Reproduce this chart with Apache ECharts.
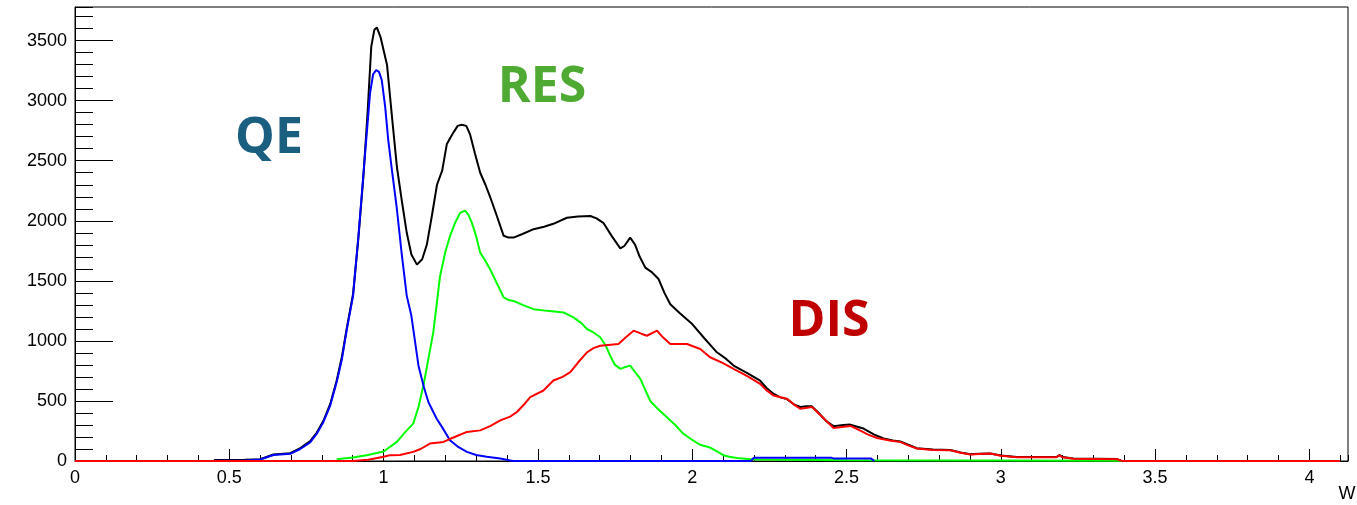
<!DOCTYPE html>
<html>
<head>
<meta charset="utf-8">
<script src="https://cdn.jsdelivr.net/npm/echarts@6/dist/echarts.min.js"></script>
<style>
html,body{margin:0;padding:0;background:#fff;}
#chart{width:1357px;height:505px;}
</style>
</head>
<body>
<div id="chart"></div>
<script>
// ---- data ----
const totalW = [0.45,0.55,0.6,0.643,0.697,0.73,0.762,0.783,0.805,0.827,0.848,0.865,0.881,0.901,0.918,0.934,0.948,0.96,0.97,0.978,0.99,1.011,1.027,1.043,1.06,1.075,1.09,1.108,1.125,1.14,1.157,1.173,1.19,1.205,1.225,1.24,1.253,1.268,1.28,1.296,1.313,1.33,1.345,1.367,1.389,1.405,1.421,1.45,1.486,1.52,1.55,1.594,1.63,1.67,1.69,1.713,1.74,1.767,1.78,1.799,1.815,1.83,1.848,1.87,1.891,1.91,1.929,1.96,2.0,2.04,2.08,2.11,2.134,2.18,2.22,2.24,2.263,2.285,2.307,2.33,2.35,2.37,2.388,2.41,2.435,2.458,2.49,2.512,2.535,2.555,2.59,2.62,2.65,2.674,2.7,2.728,2.78,2.836,2.87,2.901,2.93,2.966,3.0,3.052,3.18,3.19,3.2,3.235,3.377,3.39,3.4];
const totalN = [8,10,15,54,65,108,165,235,335,475,670,870,1110,1390,1850,2350,2900,3450,3590,3610,3530,3300,2870,2450,2150,1900,1720,1635,1680,1800,2050,2300,2420,2640,2730,2790,2800,2790,2720,2560,2400,2300,2200,2040,1875,1860,1860,1890,1930,1950,1975,2025,2035,2040,2020,1980,1870,1770,1790,1860,1800,1700,1610,1570,1515,1400,1305,1230,1140,1020,905,850,795,730,670,610,560,530,515,470,450,455,455,400,330,290,300,303,285,270,220,187,170,162,135,106,95,92,70,56,60,62,46,33,33,48,33,20,16,3,0];

const qeW = [0.45,0.55,0.6,0.643,0.697,0.73,0.762,0.783,0.805,0.827,0.848,0.865,0.881,0.901,0.918,0.934,0.956,0.966,0.976,0.985,0.994,1.005,1.015,1.028,1.042,1.058,1.075,1.09,1.113,1.13,1.145,1.172,1.19,1.215,1.24,1.27,1.3,1.334,1.378,1.41,1.42,2.19,2.2,2.45,2.46,2.58,2.59];
const qeN = [3,5,12,50,60,100,155,225,325,462,657,850,1099,1375,1860,2370,3061,3220,3254,3240,3172,2950,2674,2400,2121,1740,1375,1209,794,620,491,352,280,172,120,76,50,35,21,5,0,0,28,28,20,20,0];

const resW = [0.848,0.9,0.945,1.0,1.043,1.07,1.096,1.113,1.129,1.145,1.161,1.183,1.2,1.215,1.233,1.248,1.264,1.275,1.286,1.3,1.313,1.33,1.345,1.367,1.389,1.405,1.421,1.45,1.486,1.53,1.583,1.615,1.64,1.659,1.68,1.702,1.72,1.734,1.75,1.767,1.78,1.799,1.815,1.832,1.85,1.864,1.89,1.918,1.945,1.97,2.0,2.026,2.06,2.08,2.101,2.12,2.145,2.2,2.5,3.0,3.38,3.39];
const resN = [15,30,48,79,159,240,311,450,629,850,1071,1541,1740,1872,1990,2066,2085,2050,1983,1870,1735,1665,1596,1480,1362,1340,1333,1300,1264,1250,1237,1196,1150,1099,1070,1030,960,877,800,767,780,794,740,684,580,500,430,365,300,230,175,135,110,80,48,35,25,12,6,4,3,0];

const disW = [0,0.9,0.95,1.0,1.02,1.053,1.096,1.12,1.15,1.194,1.23,1.27,1.313,1.345,1.378,1.41,1.432,1.455,1.475,1.518,1.55,1.58,1.605,1.63,1.659,1.68,1.702,1.761,1.785,1.81,1.835,1.853,1.886,1.905,1.929,1.983,2.026,2.058,2.1,2.134,2.18,2.22,2.24,2.263,2.307,2.33,2.35,2.388,2.42,2.458,2.512,2.54,2.57,2.599,2.64,2.674,2.7,2.728,2.78,2.836,2.87,2.901,2.93,2.966,3.0,3.052,3.18,3.19,3.2,3.235,3.377,3.39,3.4,4.1];
const disN = [0,0,10,35,48,50,76,100,145,159,200,242,255,290,338,370,408,470,532,587,670,700,740,820,905,940,960,974,1030,1085,1060,1043,1085,1030,974,974,933,864,815,767,705,643,590,546,518,470,435,449,370,275,292,260,220,192,170,159,130,104,92,90,68,54,58,62,43,31,31,48,31,18,15,2,0,0];

const xTickLabels = ['0','0.5','1','1.5','2','2.5','3','3.5','4'];
const labels = [
  {text:'QE',  x:269, y:139, color:'#1a5f80'},
  {text:'RES', x:542, y:88,  color:'#4faa33'},
  {text:'DIS', x:829, y:322, color:'#c00000'}
];

const zip = (a,b) => a.map((v,i) => [v,b[i]]);

const chart = echarts.init(document.getElementById('chart'), null, {renderer:'canvas'});
const fontFam = '"Liberation Sans", Arial, Helvetica, sans-serif';
const XMAX = 4.125, YMAX = 3780;

function line(name, data, color, z) {
  return {name, type:'line', data, xAxisIndex:0, yAxisIndex:0, symbol:'none', z,
    lineStyle:{color, width:2}, itemStyle:{color}, animation:false};
}

chart.setOption({
  animation:false,
  backgroundColor:'#fff',
  grid:{left:75, right:9, top:7, bottom:44, show:true, borderColor:'#000', borderWidth:1, backgroundColor:'transparent'},
  xAxis:[
    {type:'value', min:0, max:XMAX, interval:0.5, position:'bottom',
     axisLine:{show:true, onZero:false, lineStyle:{color:'#000', width:1}},
     axisTick:{show:true, inside:true, length:12, lineStyle:{color:'#000'}},
     splitLine:{show:false},
     axisLabel:{show:true, margin:8, color:'#000', fontSize:18, fontFamily:fontFam, showMaxLabel:false,
       formatter: v => { const i = Math.round(v/0.5); return (Math.abs(v - i*0.5) < 1e-6 && i < xTickLabels.length) ? xTickLabels[i] : ''; }}},
    {type:'value', min:0, max:XMAX, interval:0.1, position:'bottom',
     axisLine:{show:false, onZero:false},
     axisTick:{show:true, inside:true, length:6, lineStyle:{color:'#000'}},
     splitLine:{show:false}, axisLabel:{show:false}}
  ],
  yAxis:[
    {type:'value', min:0, max:YMAX, interval:500, position:'left',
     axisLine:{show:true, onZero:false, lineStyle:{color:'#000', width:1}},
     axisTick:{show:true, inside:true, length:38, lineStyle:{color:'#000'}},
     splitLine:{show:false},
     axisLabel:{show:true, margin:8, color:'#000', fontSize:18, fontFamily:fontFam, showMaxLabel:false,
       formatter: v => (v % 500 === 0) ? String(v) : ''}},
    {type:'value', min:0, max:YMAX, interval:100, position:'left',
     axisLine:{show:false, onZero:false},
     axisTick:{show:true, inside:true, length:18, lineStyle:{color:'#000'}},
     splitLine:{show:false}, axisLabel:{show:false}}
  ],
  series:[
    line('Total', zip(totalW,totalN), '#000000', 2),
    line('RES', zip(resW,resN), '#00ff00', 3),
    line('QE', zip(qeW,qeN), '#0000ff', 4),
    line('DIS', zip(disW,disN), '#ff0000', 5)
  ],
  graphic:[
    ...labels.map(l => ({type:'text', x:l.x, y:l.y, z:20,
      style:{text:l.text, fill:l.color, font:'bold 50px "Open Sans", sans-serif', textAlign:'center', textVerticalAlign:'middle'}})),
    {type:'text', x:1347, y:494, z:20,
     style:{text:'W', fill:'#000', font:'18px "Liberation Sans", Arial, sans-serif', textAlign:'center', textVerticalAlign:'middle'}}
  ]
});
</script>
</body>
</html>
